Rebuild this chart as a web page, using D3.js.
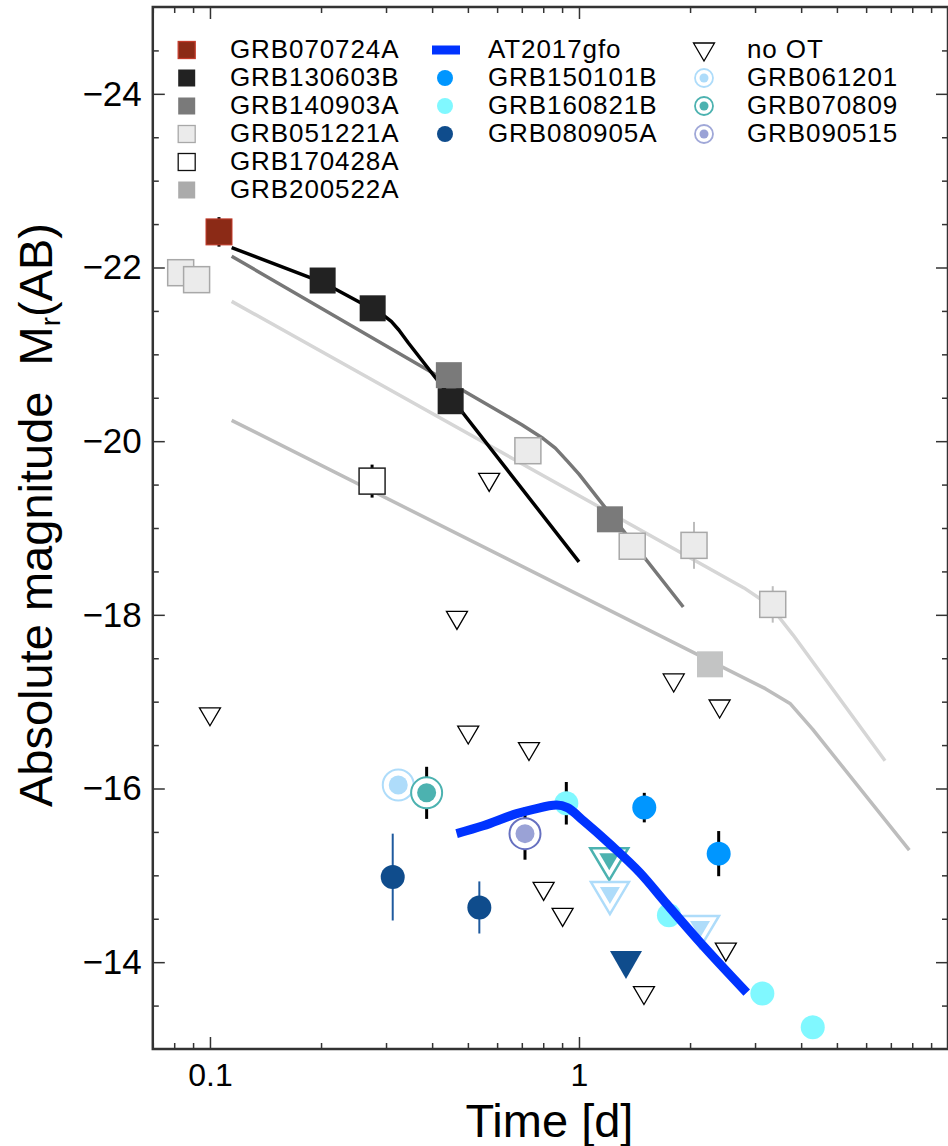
<!DOCTYPE html>
<html>
<head>
<meta charset="utf-8">
<script src="https://cdn.jsdelivr.net/npm/d3@7"></script>
<style>
  body { margin: 0; background: #fff; }
  text { font-family: "Liberation Sans", Arial, Helvetica, sans-serif; fill: #000; }
</style>
</head>
<body>
<div id="container"></div>
<script>
// ---- data (time in days, absolute r-band magnitude) ----

// model light curves
const t130603line = [0.1145, 0.202, 0.276, 0.295, 0.31, 0.325, 0.345, 1.0];
const m130603line = [-22.23, -21.83, -21.52, -21.45, -21.38, -21.28, -21.13, -18.61];
const t140903line = [0.1145, 0.70, 0.80, 0.863, 0.93, 1.0, 1.917];
const m140903line = [-22.13, -20.19, -20.03, -19.92, -19.77, -19.62, -18.09];
const t051221line = [0.1145, 2.8, 3.287, 3.8, 6.75];
const m051221line = [-21.61, -18.31, -18.11, -17.77, -16.32];
const t200522line = [0.1145, 3.2, 3.731, 4.3, 7.855];
const m200522line = [-20.24, -17.15, -16.98, -16.68, -15.29];

// AT2017gfo
const tAT = [0.466, 0.55, 0.678, 0.752, 0.87, 0.93, 1.027, 1.213, 1.463, 1.729, 2.128, 2.848];
const mAT = [-15.48, -15.57, -15.71, -15.76, -15.81, -15.78, -15.63, -15.36, -15.03, -14.67, -14.23, -13.65];

// afterglow detections (squares)
const t051221 = [0.0833, 0.092, 0.727, 1.394, 2.05, 3.35];
const m051221 = [-21.94, -21.86, -19.89, -18.79, -18.80, -18.12];
const e051221 = [0, 0, 0, 0, 0.27, 0.21];
const t140903 = [0.444, 1.213];
const m140903 = [-20.76, -19.10];
const t130603 = [0.202, 0.276, 0.449];
const m130603 = [-21.85, -21.53, -20.46];
const t070724 = [0.1058];
const m070724 = [-22.41];
const e070724 = [0.17];
const t170428 = [0.275];
const m170428 = [-19.54];
const e170428 = [0.19];
const t200522 = [2.265];
const m200522 = [-17.43];

// kilonova candidates (circles)
const t150101 = [1.503, 2.391];
const m150101 = [-15.78, -15.25];
const e150101 = [0.17, 0.26];
const t160821 = [0.924, 1.753, 3.14, 4.30];
const m160821 = [-15.83, -14.54, -13.64, -13.25];
const e160821 = [0.245, 0, 0, 0];
const t080905 = [0.3128, 0.537];
const m080905 = [-14.98, -14.63];
const e080905 = [0.5, 0.3];

// ringed circles
const t061201 = [0.3238];
const m061201 = [-16.04];
const t070809 = [0.3865];
const m070809 = [-15.95];
const e070809 = [0.3];
const t090515 = [0.714];
const m090515 = [-15.48];
const e090515 = [0.3];

// upper limits
const tUL061201 = [1.213, 2.128];
const mUL061201 = [-14.80, -14.41];
const tUL070809 = [1.208];
const mUL070809 = [-15.19];
const tUL080905 = [1.341];
const mUL080905 = [-14.02];
const tNoOT = [0.1, 0.467, 0.501, 0.571, 0.732, 0.802, 0.903, 1.5, 1.806, 2.405, 2.5];
const mNoOT = [-16.86, -17.97, -16.65, -19.56, -16.46, -14.85, -14.55, -13.65, -17.25, -16.95, -14.15];

// axes
const xMajor = [0.1, 1, 10];
const xLabels = ["0.1", "1", ""];
const xMinor = [0.07, 0.08, 0.09, 0.2, 0.3, 0.4, 0.5, 0.6, 0.7, 0.8, 0.9, 2, 3, 4, 5, 6, 7, 8, 9];
const yMajor = [-24, -22, -20, -18, -16, -14];
const yLabels = ["\u221224", "\u221222", "\u221220", "\u221218", "\u221216", "\u221214"];
const yMinor = [-24.5, -23.5, -23, -22.5, -21.5, -21, -20.5, -19.5, -19, -18.5, -17.5, -17,
                -16.5, -15.5, -15, -14.5, -13.5];

// legend
const legendCol1 = ["GRB070724A", "GRB130603B", "GRB140903A", "GRB051221A", "GRB170428A", "GRB200522A"];
const legendCol2 = ["AT2017gfo", "GRB150101B", "GRB160821B", "GRB080905A"];
const legendCol3 = ["no OT", "GRB061201", "GRB070809", "GRB090515"];

// ---- layout ----
const W = 948, H = 1146;
const x0 = 152.8, x1 = 948, y0 = 7, y1 = 1049;

const svg = d3.select("#container")
  .append("svg")
    .attr("width", W)
    .attr("height", H);

const x = d3.scaleLog().domain([0.07, 10]).range([x0, x1]);
const y = d3.scaleLinear().domain([-25, -13]).range([y0, y1]);

const zip = (t, m, e) => t.map((d, i) => ({t: d, m: m[i], e: e ? e[i] : 0}));
const tri = (w, h) => `M${-w / 2},${-h / 3}L${w / 2},${-h / 3}L0,${2 * h / 3}Z`;

const plot = svg.append("g");

// model lines
const line = d3.line().x(d => x(d.t)).y(d => y(d.m));
[
  [t200522line, m200522line, "#bdbdbd"],
  [t051221line, m051221line, "#d6d6d6"],
  [t140903line, m140903line, "#777777"],
  [t130603line, m130603line, "#000000"]
].forEach(([t, m, c]) => {
  plot.append("path")
    .datum(zip(t, m))
    .attr("d", line)
    .attr("fill", "none")
    .attr("stroke", c)
    .attr("stroke-width", 3.5)
    .attr("stroke-linejoin", "round");
});

// error bars
function errBars(data, color, w) {
  plot.selectAll(null)
    .data(data.filter(d => d.e > 0))
    .join("line")
    .attr("x1", d => x(d.t)).attr("x2", d => x(d.t))
    .attr("y1", d => y(d.m - d.e)).attr("y2", d => y(d.m + d.e))
    .attr("stroke", color)
    .attr("stroke-width", w);
}
errBars(zip(t051221, m051221, e051221), "#bdbdbd", 2);
errBars(zip(t070724, m070724, e070724), "#000", 3);
errBars(zip(t170428, m170428, e170428), "#000", 3);
errBars(zip(t150101, m150101, e150101), "#000", 3);
errBars(zip(t160821, m160821, e160821), "#000", 3);
errBars(zip(t080905, m080905, e080905), "#1f5a9e", 2);
errBars(zip(t070809, m070809, e070809), "#000", 3);
errBars(zip(t090515, m090515, e090515), "#000", 3);

// squares
function squares(data, fill, stroke, sw) {
  const s = 26;
  plot.selectAll(null)
    .data(data)
    .join("rect")
    .attr("x", d => x(d.t) - s / 2)
    .attr("y", d => y(d.m) - s / 2)
    .attr("width", s).attr("height", s)
    .attr("fill", fill)
    .attr("stroke", stroke || "none")
    .attr("stroke-width", sw || 0);
}
squares(zip(t051221, m051221), "#ebebeb", "#a8a8a8", 1.5);
squares(zip(t140903, m140903), "#7a7a7a");
squares(zip(t130603, m130603), "#222222");
squares(zip(t070724, m070724), "#8b2a16", "#c23a2a", 1);
squares(zip(t170428, m170428), "#ffffff", "#222", 1.5);
squares(zip(t200522, m200522), "#c3c4c4");

// no OT triangles
plot.selectAll(null)
  .data(zip(tNoOT, mNoOT))
  .join("path")
  .attr("d", tri(21, 18))
  .attr("transform", d => `translate(${x(d.t)},${y(d.m)})`)
  .attr("fill", "#fff")
  .attr("stroke", "#000")
  .attr("stroke-width", 1.3);

// circles
function dots(data, fill, r) {
  plot.selectAll(null)
    .data(data)
    .join("circle")
    .attr("cx", d => x(d.t)).attr("cy", d => y(d.m))
    .attr("r", r)
    .attr("fill", fill);
}
dots(zip(t150101, m150101), "#0096ff", 12);
dots(zip(t160821, m160821), "#80f8ff", 12);
dots(zip(t080905, m080905), "#0f4c8c", 12);

// ringed circles
function rings(data, ringColor, dotColor) {
  const g = plot.selectAll(null)
    .data(data)
    .join("g")
    .attr("transform", d => `translate(${x(d.t)},${y(d.m)})`);
  g.append("circle").attr("r", 15.5).attr("fill", "#fff")
    .attr("stroke", ringColor).attr("stroke-width", 2);
  g.append("circle").attr("r", 9.5).attr("fill", dotColor);
}
rings(zip(t061201, m061201), "#aedcfa", "#aedcfa");
rings(zip(t070809, m070809), "#4cb2b0", "#4cb2b0");
rings(zip(t090515, m090515), "#6670c0", "#9aa2d6");

// ringed upper limits
function ringTri(data, color) {
  const g = plot.selectAll(null)
    .data(data)
    .join("g")
    .attr("transform", d => `translate(${x(d.t)},${y(d.m)})`);
  g.append("path").attr("d", tri(38, 32)).attr("fill", "#fff")
    .attr("stroke", color).attr("stroke-width", 2.5);
  g.append("path").attr("d", tri(20, 17)).attr("fill", color);
}
ringTri(zip(tUL070809, mUL070809), "#4cb2b0");
ringTri(zip(tUL061201, mUL061201), "#aedcfa");

plot.selectAll(null)
  .data(zip(tUL080905, mUL080905))
  .join("path")
  .attr("d", tri(32, 28))
  .attr("transform", d => `translate(${x(d.t)},${y(d.m)})`)
  .attr("fill", "#0f4c8c");

// AT2017gfo
plot.append("path")
  .datum(zip(tAT, mAT))
  .attr("d", d3.line().x(d => x(d.t)).y(d => y(d.m)).curve(d3.curveMonotoneX))
  .attr("fill", "none")
  .attr("stroke", "#0033ff")
  .attr("stroke-width", 9);

// ---- axes ----
const tickColor = "#333";
function styleAxis(g) {
  g.select(".domain").remove();
  g.selectAll(".tick line").attr("stroke", tickColor).attr("stroke-width", 1.5);
}

svg.append("g")
  .attr("transform", `translate(0,${y1})`)
  .call(d3.axisBottom(x).tickValues(xMajor).tickSizeInner(-12).tickSizeOuter(0).tickPadding(14)
    .tickFormat((d, i) => xLabels[i]))
  .call(styleAxis)
  .call(g => g.selectAll("text").attr("font-size", 32).attr("font-family", null));

svg.append("g")
  .attr("transform", `translate(0,${y1})`)
  .call(d3.axisBottom(x).tickValues(xMinor).tickSizeInner(-6).tickSizeOuter(0).tickFormat(""))
  .call(styleAxis);

svg.append("g")
  .attr("transform", `translate(0,${y0})`)
  .call(d3.axisTop(x).tickValues(xMajor).tickSizeInner(-12).tickSizeOuter(0).tickFormat(""))
  .call(styleAxis);

svg.append("g")
  .attr("transform", `translate(0,${y0})`)
  .call(d3.axisTop(x).tickValues(xMinor).tickSizeInner(-6).tickSizeOuter(0).tickFormat(""))
  .call(styleAxis);

svg.append("g")
  .attr("transform", `translate(${x0},0)`)
  .call(d3.axisLeft(y).tickValues(yMajor).tickSizeInner(-12).tickSizeOuter(0).tickPadding(11)
    .tickFormat((d, i) => yLabels[i]))
  .call(styleAxis)
  .call(g => g.selectAll("text").attr("font-size", 35).attr("font-family", null));

svg.append("g")
  .attr("transform", `translate(${x0},0)`)
  .call(d3.axisLeft(y).tickValues(yMinor).tickSizeInner(-6).tickSizeOuter(0).tickFormat(""))
  .call(styleAxis);

svg.append("g")
  .attr("transform", `translate(${x1},0)`)
  .call(d3.axisRight(y).tickValues(yMajor).tickSizeInner(-12).tickSizeOuter(0).tickFormat(""))
  .call(styleAxis);

svg.append("g")
  .attr("transform", `translate(${x1},0)`)
  .call(d3.axisRight(y).tickValues(yMinor).tickSizeInner(-6).tickSizeOuter(0).tickFormat(""))
  .call(styleAxis);

// frame
svg.append("rect")
  .attr("x", x0).attr("y", y0)
  .attr("width", x1 - x0).attr("height", y1 - y0)
  .attr("fill", "none")
  .attr("stroke", tickColor)
  .attr("stroke-width", 2.5);

// axis titles
svg.append("text")
  .attr("x", (x0 + x1) / 2 - 1).attr("y", 1137)
  .attr("text-anchor", "middle")
  .attr("font-size", 47)
  .text("Time [d]");

const yt = svg.append("text")
  .attr("transform", "translate(52,515) rotate(-90)")
  .attr("text-anchor", "middle")
  .attr("font-size", 47);
yt.append("tspan").text("Absolute magnitude\u00a0\u00a0M");
yt.append("tspan").attr("font-size", 28).attr("dy", 8).text("r");
yt.append("tspan").attr("dy", -8).text("(AB)");

// ---- legend ----
const rowY = i => 50 + i * 28;
const leg = svg.append("g");
const legText = (xx, i, s) => leg.append("text")
  .attr("x", xx).attr("y", rowY(i) + 8)
  .attr("font-size", 26)
  .attr("letter-spacing", 0.9)
  .text(s);

const col1Style = [
  ["#8b2a16", "#c23a2a"], ["#222222", null], ["#7a7a7a", null],
  ["#ebebeb", "#a8a8a8"], ["#ffffff", "#111"], ["#ababab", null]
];
legendCol1.forEach((s, i) => {
  leg.append("rect")
    .attr("x", 186.7 - 8.5).attr("y", rowY(i) - 8.5)
    .attr("width", 17).attr("height", 17)
    .attr("fill", col1Style[i][0])
    .attr("stroke", col1Style[i][1] || "none")
    .attr("stroke-width", 1.3);
  legText(230, i, s);
});

const col2Color = ["#0033ff", "#0096ff", "#80f8ff", "#0f4c8c"];
legendCol2.forEach((s, i) => {
  if (i === 0) {
    leg.append("rect").attr("x", 432).attr("y", rowY(i) - 4.5)
      .attr("width", 28).attr("height", 9).attr("fill", col2Color[i]);
  } else {
    leg.append("circle").attr("cx", 445).attr("cy", rowY(i)).attr("r", 8)
      .attr("fill", col2Color[i]);
  }
  legText(488, i, s);
});

const col3Ring = [null, "#aedcfa", "#4cb2b0", "#a0a8d8"];
const col3Dot = [null, "#aedcfa", "#4cb2b0", "#9aa2d6"];
legendCol3.forEach((s, i) => {
  if (i === 0) {
    leg.append("path").attr("d", tri(21, 18))
      .attr("transform", `translate(704,${rowY(i) - 1})`)
      .attr("fill", "#fff").attr("stroke", "#000").attr("stroke-width", 1.3);
  } else {
    leg.append("circle").attr("cx", 704).attr("cy", rowY(i)).attr("r", 9)
      .attr("fill", "#fff").attr("stroke", col3Ring[i]).attr("stroke-width", 1.8);
    leg.append("circle").attr("cx", 704).attr("cy", rowY(i)).attr("r", 4.5)
      .attr("fill", col3Dot[i]);
  }
  legText(747, i, s);
});
</script>
</body>
</html>
